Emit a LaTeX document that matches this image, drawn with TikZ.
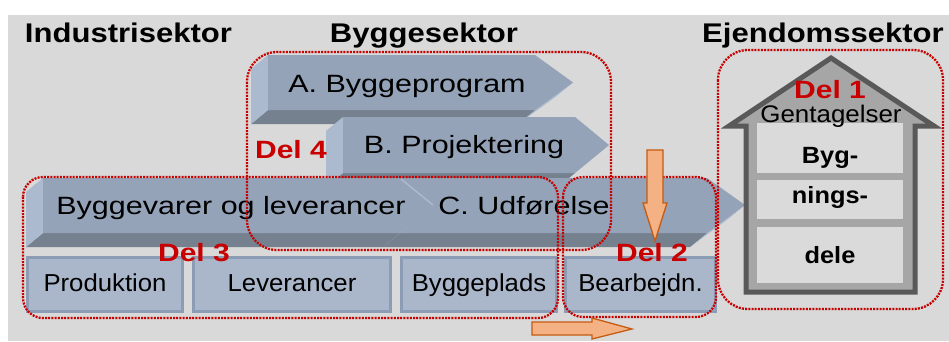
\documentclass[tikz,border=0pt]{standalone}
\usepackage{fontspec}
\setmainfont{Liberation Sans}
\usetikzlibrary{calc}
\definecolor{bg}{HTML}{D9D9D9}
\definecolor{chface}{HTML}{94A3B8}
\definecolor{chlite}{HTML}{ABBACF}
\definecolor{chlitetip}{HTML}{A9B9CF}
\definecolor{chdark}{HTML}{76818F}
\definecolor{boxfill}{HTML}{AAB7CA}
\definecolor{boxline}{HTML}{8D9CB5}
\definecolor{delred}{HTML}{C80000}
\definecolor{hdark}{HTML}{595959}
\definecolor{hmid}{HTML}{A6A6A6}
\definecolor{hlight}{HTML}{DADADA}
\definecolor{orfill}{HTML}{F4B183}
\definecolor{orline}{HTML}{C55A11}
\newcommand\sx[2]{\scalebox{#1}[1]{#2}}
% 3D chevron: x0 y0 x1 y1 xtip
\newcommand\chevshape[5]{%
  \pgfmathsetmacro\cym{(#2+#4)/2}%
  \fill[chlitetip] (#5,\cym) -- (#3,#4) -- ({#3-17},{#4+14}) -- ({#5-17},{\cym+14}) -- cycle;
  \fill[chdark] (#1,#4) -- (#3,#4) -- ({#3-17},{#4+14}) -- ({#1-17},{#4+14}) -- cycle;
  \fill[chlite] (#1,#2) -- (#1,#4) -- ({#1-17},{#4+14}) -- ({#1-17},{#2+14}) -- cycle;
  \fill[chface] (#1,#2) -- (#3,#2) -- (#5,\cym) -- (#3,#4) -- (#1,#4) -- cycle;
}
\tikzset{
  txt/.style={inner sep=0pt, anchor=base},
  title/.style={txt, font=\bfseries\fontsize{27}{30}\selectfont},
  chtext/.style={txt, font=\fontsize{25}{28}\selectfont},
  deltext/.style={txt, text=delred, font=\bfseries\fontsize{25}{28}\selectfont},
  housetext/.style={txt, font=\bfseries\fontsize{23.5}{26}\selectfont},
  lowbox/.style={draw=boxline, fill=boxfill, line width=3pt, inner sep=0pt,
    minimum height=54pt, text height=18pt, text depth=5pt,
    font=\fontsize{24.5}{28}\selectfont},
  hbox/.style={fill=hlight, inner sep=0pt, minimum width=146pt},
  dotbox/.style={draw=delred, line width=2.3pt, dash pattern=on 2pt off 1.2pt},
  orarrow/.style={fill=orfill, draw=orline, line width=1.3pt, line join=miter},
}
\begin{document}
\begin{tikzpicture}[x=1pt,y=-1pt]
\useasboundingbox (0,0) rectangle (949,341);
\fill[white] (0,0) rectangle (949,341);
\fill[bg] (8,15) rectangle (949,341);

% titles
\node[title] (tind) at (128.5,42) {\sx{1.15}{Industrisektor}};
\node[title] (tbyg) at (424,42) {\sx{1.15}{Byggesektor}};
\node[title] (tejd) at (823,42) {\sx{1.15}{Ejendomssektor}};

% chevrons
\chevshape{268}{55}{535}{110}{573}
\chevshape{343}{117}{575}{173}{609}
% C chevron with notch
\fill[chlitetip] (745,205) -- (707,233) -- (690,247) -- (728,219) -- cycle;
\fill[chdark] (400,233) -- (707,233) -- (690,247) -- (383,247) -- cycle;
\fill[chface] (400,178) -- (707,178) -- (745,205) -- (707,233) -- (400,233) -- (433,205) -- cycle;
% Byggevarer chevron
\chevshape{43}{178}{400}{233}{433}
\draw[chlite, line width=1.5pt] (401,179) -- (433,205);

\node[chtext] (ca) at (407,92) {\sx{1.22}{A. Byggeprogram}};
\node[chtext] (cb) at (464,153) {\sx{1.22}{B. Projektering}};
\node[chtext] (cv) at (231,214) {\sx{1.22}{Byggevarer og leverancer}};
\node[chtext] (cc) at (524,214) {\sx{1.22}{C. Udførelse}};

% lower boxes
\node[lowbox, minimum width=155pt] (bprod) at (105,284.5) {\sx{1.05}{Produktion}};
\node[lowbox, minimum width=197pt] (blev) at (292,284.5) {\sx{1.05}{Leverancer}};
\node[lowbox, minimum width=155pt] (bplads) at (479,284.5) {\sx{1.05}{Byggeplads}};
\node[lowbox, minimum width=150pt] (bbear) at (640.5,284.5) {\sx{1.05}{Bearbejdn.}};

% house
\draw[hdark, fill=hmid, line width=5pt, line join=miter]
  (729,126) -- (831,58) -- (934,126) -- (915,126) -- (915,292) -- (746,292) -- (746,126) -- cycle;
\node[hbox, minimum height=50pt] (h1) at (830,148) {};
\node[hbox, minimum height=39pt] (h2) at (830,199.5) {};
\node[hbox, minimum height=56pt] (h3) at (830,255) {};
\node[txt, font=\fontsize{24}{27}\selectfont] (gent) at (831,122) {\sx{1.08}{Gentagelser}};
\node[housetext] (hbyg) at (830,163) {\sx{1.08}{Byg-}};
\node[housetext] (hnin) at (830,203) {\sx{1.08}{nings-}};
\node[housetext] (hdel) at (830,263) {\sx{1.08}{dele}};

% Del labels
\node[deltext] (d1) at (830,98) {\sx{1.2}{Del 1}};
\node[deltext] (d2) at (652,261) {\sx{1.2}{Del 2}};
\node[deltext] (d3) at (194,261) {\sx{1.2}{Del 3}};
\node[deltext] (d4) at (291,158) {\sx{1.2}{Del 4}};

% red dotted boxes
\draw[dotbox, rounded corners=30pt] (247,52) rectangle (611,250);
\draw[dotbox, rounded corners=20pt] (23,177) rectangle (558,318);
\draw[dotbox, rounded corners=20pt] (563,177) rectangle (716,317);
\draw[dotbox, rounded corners=30pt] (718,50) rectangle (943,309);

% orange arrows
\draw[orarrow] (647,150) -- (663,150) -- (663,203) -- (667,203) -- (655,241) -- (643,203) -- (647,203) -- cycle;
\draw[orarrow] (532,322) -- (592,322) -- (592,318) -- (632,329) -- (592,339) -- (592,335) -- (532,335) -- cycle;
\end{tikzpicture}
\end{document}
